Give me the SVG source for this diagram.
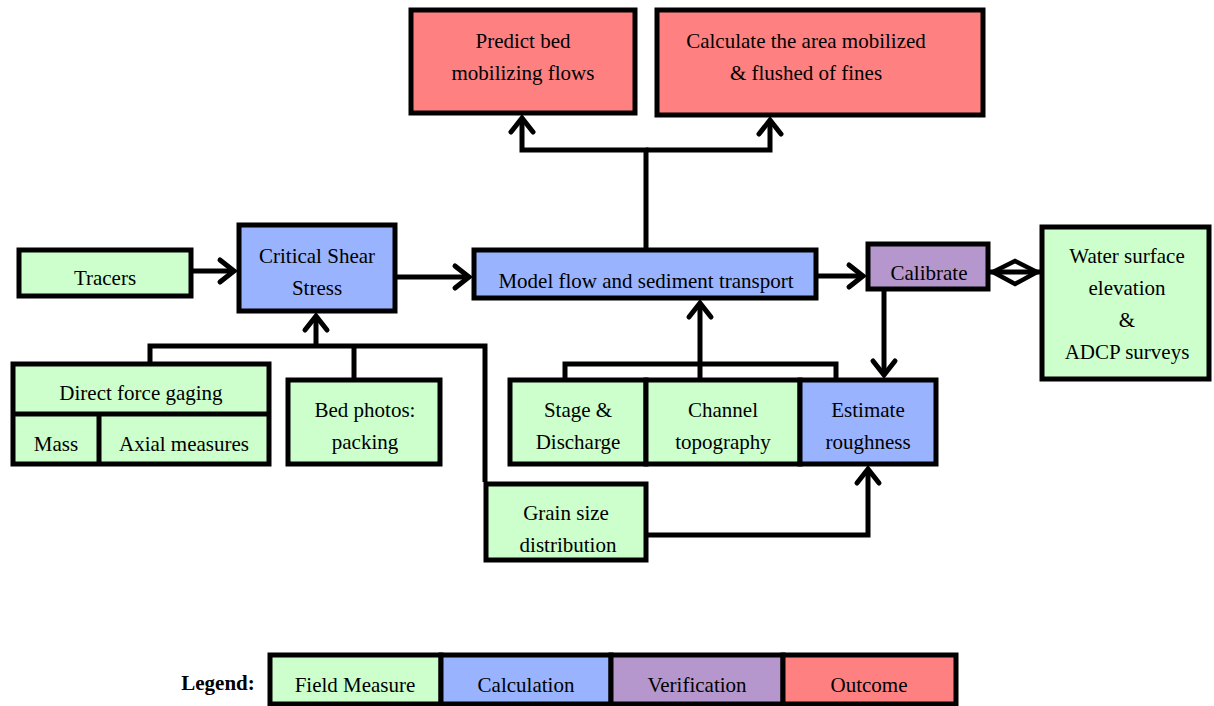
<svg xmlns="http://www.w3.org/2000/svg" width="1214" height="706" viewBox="0 0 1214 706">
<style>
.box{stroke:#000;stroke-width:5}
.g{fill:#ccffcc}.b{fill:#99b3ff}.p{fill:#b597cd}.r{fill:#ff8080}
text{font-family:"Liberation Serif","Times New Roman",serif;font-size:21px;fill:#000;text-anchor:middle}
.ln{fill:none;stroke:#000;stroke-width:5;stroke-linejoin:miter}
.lg{font-weight:bold;font-size:21px}
</style>
<defs>
<marker id="arr" markerUnits="userSpaceOnUse" markerWidth="30" markerHeight="30" viewBox="-20 -15 25 30" refX="0" refY="0" orient="auto" overflow="visible">
<path d="M-14,-11 L0,0 L-14,11" fill="none" stroke="#000" stroke-width="5" stroke-linecap="round" stroke-linejoin="miter"/>
</marker>
</defs>
<rect width="1214" height="706" fill="#fff"/>
<g id="connectors">
<polyline class="ln" points="646,248 646,150 522,150 522,118" marker-end="url(#arr)"/>
<polyline class="ln" points="646,150 770,150 770,120" marker-end="url(#arr)"/>
<line class="ln" x1="193" y1="271" x2="234" y2="271" marker-end="url(#arr)"/>
<line class="ln" x1="397" y1="277" x2="469" y2="277" marker-end="url(#arr)"/>
<line class="ln" x1="818" y1="276" x2="863" y2="276" marker-end="url(#arr)"/>
<line class="ln" x1="990" y1="272" x2="1040" y2="272"/>
<polygon points="993,272 1015,261 1037,272 1015,284" fill="#fff" stroke="#000" stroke-width="4.5"/>
<line class="ln" x1="995" y1="272" x2="1036" y2="272" stroke-width="4"/>
<line class="ln" x1="884" y1="291" x2="884" y2="375" marker-end="url(#arr)"/>
<polyline class="ln" points="150,362 150,346 485,346 485,482"/>
<line class="ln" x1="354" y1="346" x2="354" y2="378"/>
<line class="ln" x1="316" y1="346" x2="316" y2="316" marker-end="url(#arr)"/>
<polyline class="ln" points="565,378 565,364 836,364 836,378"/>
<line class="ln" x1="700" y1="378" x2="700" y2="303" marker-end="url(#arr)"/>
<polyline class="ln" points="648,535 868,535 868,469" marker-end="url(#arr)"/>
</g>
<g id="predict">
<rect class="box r" x="411" y="10" width="224" height="103"/>
<text x="523" y="48">Predict bed</text>
<text x="523" y="80">mobilizing flows</text>
</g>
<g id="calculate">
<rect class="box r" x="657" y="10" width="326" height="105"/>
<text x="806" y="48">Calculate the area mobilized</text>
<text x="806" y="80">&amp; flushed of fines</text>
</g>
<g id="tracers">
<rect class="box g" x="19" y="250" width="172" height="46"/>
<text x="105" y="285">Tracers</text>
</g>
<g id="css">
<rect class="box b" x="239" y="225" width="156" height="86"/>
<text x="317" y="263">Critical Shear</text>
<text x="317" y="295">Stress</text>
</g>
<g id="model">
<rect class="box b" x="474" y="250" width="342" height="48"/>
<text x="646" y="288">Model flow and sediment transport</text>
</g>
<g id="calibrate">
<rect class="box p" x="868" y="244" width="120" height="45"/>
<text x="929" y="280">Calibrate</text>
</g>
<g id="water">
<rect class="box g" x="1042" y="227" width="167" height="152"/>
<text x="1127" y="263">Water surface</text>
<text x="1127" y="295">elevation</text>
<text x="1127" y="327">&amp;</text>
<text x="1127" y="359">ADCP surveys</text>
</g>
<g id="direct">
<rect class="box g" x="13" y="364" width="256" height="100"/>
<line class="ln" x1="13" y1="414" x2="269" y2="414"/>
<line class="ln" x1="99" y1="414" x2="99" y2="464"/>
<text x="141" y="400">Direct force gaging</text>
<text x="56" y="451">Mass</text>
<text x="184" y="451">Axial measures</text>
</g>
<g id="bedphotos">
<rect class="box g" x="288" y="380" width="152" height="84"/>
<text x="365" y="417">Bed photos:</text>
<text x="365" y="449">packing</text>
</g>
<g id="stage">
<rect class="box g" x="510" y="380" width="136" height="84"/>
<text x="578" y="417">Stage &amp;</text>
<text x="578" y="449">Discharge</text>
</g>
<g id="channel">
<rect class="box g" x="646" y="380" width="154" height="84"/>
<text x="723" y="417">Channel</text>
<text x="723" y="449">topography</text>
</g>
<g id="estimate">
<rect class="box b" x="800" y="380" width="136" height="84"/>
<text x="868" y="417">Estimate</text>
<text x="868" y="449">roughness</text>
</g>
<g id="grain">
<rect class="box g" x="486" y="484" width="160" height="76"/>
<text x="566" y="520">Grain size</text>
<text x="568" y="552">distribution</text>
</g>
<g id="legend">
<text class="lg" x="218" y="690">Legend:</text>
<rect class="box g" x="270" y="655" width="171" height="49"/>
<rect class="box b" x="441" y="655" width="170" height="49"/>
<rect class="box p" x="611" y="655" width="172" height="49"/>
<rect class="box r" x="783" y="655" width="173" height="49"/>
<text x="355" y="692">Field Measure</text>
<text x="526" y="692">Calculation</text>
<text x="697" y="692">Verification</text>
<text x="869" y="692">Outcome</text>
</g>
</svg>
